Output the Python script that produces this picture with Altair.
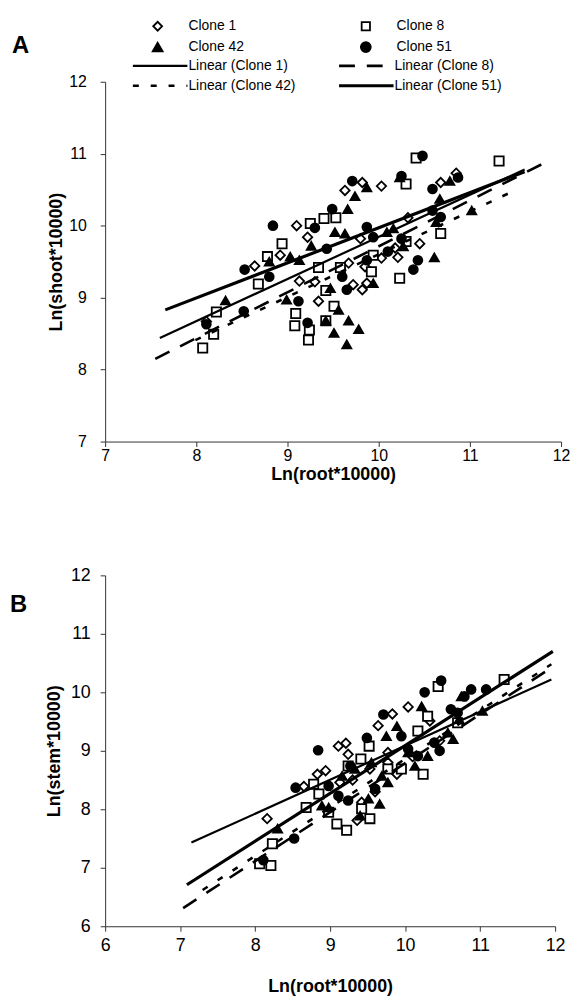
import altair as alt
import pandas as pd

FONT = "Liberation Sans"
CLONES = ["Clone 1", "Clone 8", "Clone 42", "Clone 51"]

# ---------------- Panel A : Ln(shoot*10000) vs Ln(root*10000) ----------------
a_c1_x = [8.11, 8.64, 8.92, 9.10, 9.13, 9.22, 9.30, 9.34, 9.63, 9.67, 9.72, 9.80,
          9.82, 9.82, 9.85, 9.87, 10.03, 10.03, 10.18, 10.21, 10.32, 10.45, 10.68, 10.85]
a_c1_y = [8.67, 9.44, 9.59, 10.00, 9.23, 9.84, 9.22, 8.95, 10.49, 9.48, 9.18, 9.82,
          10.60, 9.11, 9.43, 9.20, 10.55, 9.55, 9.69, 9.56, 10.11, 9.75, 10.60, 10.73]

a_c8_x = [8.07, 8.19, 8.22, 8.68, 8.78, 8.94, 9.08, 9.09, 9.23, 9.24, 9.25, 9.34, 9.40,
          9.42, 9.42, 9.51, 9.53, 9.58, 9.92, 9.94, 10.23, 10.30, 10.30, 10.41, 10.68, 11.32]
a_c8_y = [8.30, 8.49, 8.80, 9.19, 9.57, 9.75, 8.61, 8.78, 8.41, 8.55, 10.03, 9.42, 10.10,
          8.68, 9.10, 8.88, 10.11, 9.42, 9.36, 9.59, 9.27, 10.58, 9.78, 10.94, 9.89, 10.90]

a_c42_x = [8.32, 8.80, 8.99, 9.03, 9.13, 9.26, 9.42, 9.47, 9.51, 9.52, 9.56, 9.63, 9.65, 9.66,
           9.67, 9.74, 9.78, 9.87, 9.94, 10.09, 10.16, 10.23, 10.27, 10.61, 10.63, 10.67, 10.78, 11.02]
a_c42_y = [8.96, 9.50, 8.97, 9.57, 9.52, 9.72, 8.68, 9.13, 8.51, 9.91, 8.83, 9.89, 8.35, 10.23,
           8.68, 10.41, 8.56, 10.53, 9.20, 9.91, 9.96, 10.67, 9.71, 9.56, 10.05, 10.37, 10.62, 10.21]

a_c51_x = [8.11, 8.52, 8.53, 8.80, 8.84, 9.12, 9.22, 9.30, 9.43, 9.49, 9.60, 9.65, 9.71,
           9.87, 9.87, 9.94, 10.10, 10.25, 10.25, 10.38, 10.43, 10.48, 10.59, 10.59, 10.68, 10.87]
a_c51_y = [8.63, 8.81, 9.39, 9.29, 10.00, 8.95, 8.65, 9.97, 9.68, 10.23, 9.29, 9.11, 10.62,
           9.98, 9.52, 9.84, 9.64, 10.69, 9.82, 9.39, 9.52, 10.97, 10.51, 10.21, 10.12, 10.67]

# trendline end points (x start, x end / y start, y end)
a_trend_x = {"Clone 1": [7.60, 11.60], "Clone 8": [7.55, 11.83],
             "Clone 42": [7.99, 11.46], "Clone 51": [7.66, 11.60]}
a_trend_y = {"Clone 1": [8.44, 10.78], "Clone 8": [8.15, 10.88],
             "Clone 42": [8.41, 10.47], "Clone 51": [8.83, 10.75]}

# ---------------- Panel B : Ln(stem*10000) vs Ln(root*10000) ----------------
b_c1_x = [8.16, 8.65, 8.83, 8.94, 9.11, 9.13, 9.21, 9.24, 9.36, 9.42, 9.53, 9.64, 9.77,
          9.77, 9.83, 9.89, 10.04, 10.33, 10.46, 9.30, 9.60, 10.10]
b_c1_y = [7.84, 8.39, 8.60, 8.66, 9.08, 8.46, 9.13, 8.94, 7.81, 8.12, 8.69, 9.43, 8.80,
          8.97, 9.63, 8.60, 9.75, 9.51, 9.17, 8.50, 8.30, 8.90]

b_c8_x = [8.06, 8.21, 8.23, 8.68, 8.78, 8.85, 8.98, 9.09, 9.22, 9.24, 9.41, 9.42, 9.52,
          9.53, 9.77, 9.95, 10.17, 10.24, 10.30, 10.44, 10.70, 11.32]
b_c8_y = [7.07, 7.04, 7.41, 8.03, 8.43, 8.26, 7.95, 7.75, 7.64, 8.74, 8.86, 8.01, 9.08,
          7.84, 8.69, 8.69, 9.34, 8.60, 9.59, 10.10, 9.48, 10.22]

b_c42_x = [8.30, 8.89, 8.98, 9.16, 9.33, 9.40, 9.51, 9.55, 9.66, 9.69, 9.75, 9.77, 9.89,
           10.04, 10.13, 10.22, 10.30, 10.57, 10.64, 10.72, 10.75, 11.03]
b_c42_y = [7.67, 8.06, 8.03, 8.57, 8.69, 7.89, 8.18, 8.80, 8.09, 8.57, 9.25, 8.46, 9.42,
           8.97, 8.74, 9.76, 8.91, 9.31, 9.20, 9.54, 9.93, 9.68]

b_c51_x = [8.11, 8.52, 8.54, 8.84, 8.98, 9.11, 9.24, 9.27, 9.49, 9.60, 9.71, 9.95, 10.04,
           10.17, 10.26, 10.39, 10.46, 10.48, 10.61, 10.70, 10.79, 10.88, 11.08]
b_c51_y = [7.13, 7.50, 8.37, 9.01, 8.40, 8.23, 8.15, 8.74, 9.22, 8.35, 9.62, 9.25, 9.03,
           8.91, 10.00, 9.14, 9.00, 10.20, 9.71, 9.65, 9.93, 10.05, 10.05]

b_trend_x = {"Clone 1": [7.15, 11.95], "Clone 8": [7.04, 11.95],
             "Clone 42": [7.30, 11.95], "Clone 51": [7.09, 11.97]}
b_trend_y = {"Clone 1": [7.43, 10.22], "Clone 8": [6.31, 10.42],
             "Clone 42": [6.62, 10.48], "Clone 51": [6.71, 10.70]}

legend_marker_labels = ["Clone 1", "Clone 8", "Clone 42", "Clone 51"]
legend_line_labels = ["Linear (Clone 1)", "Linear (Clone 8)", "Linear (Clone 42)", "Linear (Clone 51)"]

# ---------------- styles ----------------
SHAPE = {"Clone 1": "diamond", "Clone 8": "square", "Clone 42": "triangle-up", "Clone 51": "circle"}
FILL = {"Clone 1": "white", "Clone 8": "white", "Clone 42": "black", "Clone 51": "black"}
SIZE = {"Clone 1": 90, "Clone 8": 80, "Clone 42": 110, "Clone 51": 110}
LINE_W = {"Clone 1": 2.2, "Clone 8": 2.6, "Clone 42": 2.6, "Clone 51": 3.2}
LINE_DASH = {"Clone 8": [16, 12], "Clone 42": [6, 12]}


def points_df(xs, ys):
    rows = []
    for clone, (xv, yv) in zip(CLONES, zip(xs, ys)):
        for a, b in zip(xv, yv):
            rows.append({"clone": clone, "x": a, "y": b})
    return pd.DataFrame(rows)


def one():
    return alt.InlineData(values=[{"k": 0}])


def make_panel(pts, trend_x, trend_y, dom, xaxis, yaxis, w, h, letter, letter_dx, letter_dy,
               with_legend):
    X = alt.X("x:Q", scale=alt.Scale(domain=dom, nice=False, zero=False), axis=xaxis)
    Y = alt.Y("y:Q", scale=alt.Scale(domain=dom, nice=False, zero=False), axis=yaxis)
    layers = []
    pts_chart = alt.Chart(pts).mark_point(filled=True, stroke="black", strokeWidth=1.8,
                                          opacity=1).encode(
        x=X, y=Y,
        shape=alt.Shape("clone:N", scale=alt.Scale(domain=CLONES, range=[SHAPE[c] for c in CLONES]),
                        legend=None),
        fill=alt.Fill("clone:N", scale=alt.Scale(domain=CLONES, range=[FILL[c] for c in CLONES]),
                      legend=None),
        size=alt.Size("clone:O", scale=alt.Scale(domain=CLONES, range=[SIZE[c] for c in CLONES]),
                      legend=None),
    )
    layers.append(pts_chart)
    for c in CLONES:
        tdf = pd.DataFrame({"x": trend_x[c], "y": trend_y[c]})
        kw = dict(color="black", strokeWidth=LINE_W[c], strokeCap="butt")
        if c in LINE_DASH:
            kw["strokeDash"] = LINE_DASH[c]
        layers.append(alt.Chart(tdf).mark_line(**kw).encode(x=X, y=Y))
    # panel letter
    layers.append(alt.Chart(one()).mark_text(text=letter, font=FONT, fontSize=24, fontWeight="bold",
                                             align="left", baseline="middle", color="black").encode(
        x=alt.value(letter_dx), y=alt.value(letter_dy)))
    if with_legend:
        rows_y = [-56, -35, -16, 4]
        col_marker = [53, 263]
        col_text = [84, 294]
        col_line = [(28, 83), (236, 291)]
        for i, c in enumerate(legend_marker_labels):
            col = i % 2
            ry = rows_y[i // 2]
            layers.append(alt.Chart(one()).mark_point(
                shape=SHAPE[c], filled=True, fill=FILL[c], stroke="black", strokeWidth=1.8,
                size=SIZE[c] - 10, opacity=1).encode(x=alt.value(col_marker[col]), y=alt.value(ry)))
            layers.append(alt.Chart(one()).mark_text(
                text=c, font=FONT, fontSize=14, align="left", baseline="middle", color="black").encode(
                x=alt.value(col_text[col]), y=alt.value(ry)))
        for i, c in enumerate(CLONES):
            col = i % 2
            ry = rows_y[2 + i // 2]
            kw = dict(color="black", strokeWidth=LINE_W[c], strokeCap="butt")
            if c in LINE_DASH:
                kw["strokeDash"] = LINE_DASH[c]
            layers.append(alt.Chart(one()).mark_rule(**kw).encode(
                x=alt.value(col_line[col][0]), x2=alt.value(col_line[col][1]),
                y=alt.value(ry), y2=alt.value(ry)))
            layers.append(alt.Chart(one()).mark_text(
                text=legend_line_labels[i], font=FONT, fontSize=14, align="left",
                baseline="middle", color="black").encode(
                x=alt.value(col_line[col][1] + 1), y=alt.value(ry)))
    return alt.layer(*layers).properties(width=w, height=h)


def axis(values, title, lfs, tfs, lpad, tpad):
    return alt.Axis(values=values, title=title, format="d", grid=False,
                    labelFont=FONT, titleFont=FONT, labelFontSize=lfs, titleFontSize=tfs,
                    titleFontWeight="bold", labelColor="black", titleColor="black",
                    domainColor="#333333", tickColor="#333333", tickSize=5,
                    labelPadding=lpad, titlePadding=tpad, labelFlush=False)


pts_a = points_df([a_c1_x, a_c8_x, a_c42_x, a_c51_x], [a_c1_y, a_c8_y, a_c42_y, a_c51_y])
pts_b = points_df([b_c1_x, b_c8_x, b_c42_x, b_c51_x], [b_c1_y, b_c8_y, b_c42_y, b_c51_y])

panel_a = make_panel(
    pts_a, a_trend_x, a_trend_y, [7, 12],
    axis([7, 8, 9, 10, 11, 12], "Ln(root*10000)", 16, 18, 1, 2),
    axis([7, 8, 9, 10, 11, 12], "Ln(shoot*10000)", 16, 18, 14, 3),
    460, 363, "A", -94, -36, True)

panel_b = make_panel(
    pts_b, b_trend_x, b_trend_y, [6, 12],
    axis([6, 7, 8, 9, 10, 11, 12], "Ln(root*10000)", 18, 18, 5, 24),
    axis([6, 7, 8, 9, 10, 11, 12], "Ln(stem*10000)", 18, 18, 10, 7),
    454, 354, "B", -96, 30, False)

chart = alt.vconcat(panel_a, panel_b, spacing=84).properties(
    padding={"left": 2, "top": 5, "right": 0, "bottom": 0},
    background="white",
).configure_view(stroke=None)

chart.save("out.html", embed_options={"renderer": "svg", "actions": False})
